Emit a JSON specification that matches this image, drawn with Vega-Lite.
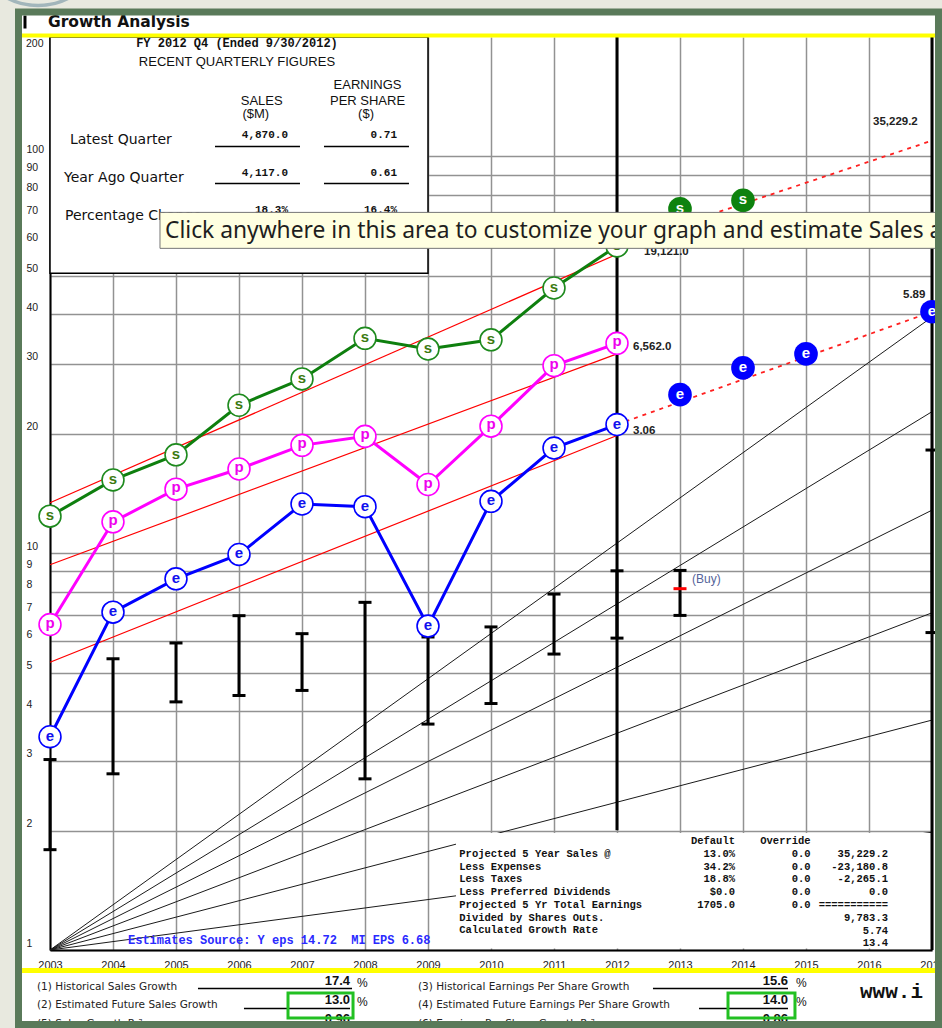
{
  "$schema": "https://vega.github.io/schema/vega-lite/v6.json",
  "width": 882,
  "height": 913,
  "autosize": {"type": "none"},
  "padding": {"left": 50, "top": 37, "right": 10, "bottom": 78},
  "background": "white",
  "config": {"view": {"stroke": null}, "text": {"font": "Liberation Sans"}},
  "data": {"values": [{}]},
  "datasets": {
    "sales": [
      {"year": 2003, "sales": 3985}, {"year": 2004, "sales": 4917}, {"year": 2005, "sales": 5689},
      {"year": 2006, "sales": 7585}, {"year": 2007, "sales": 8839}, {"year": 2008, "sales": 11185},
      {"year": 2009, "sales": 10510}, {"year": 2010, "sales": 11088}, {"year": 2011, "sales": 14977},
      {"year": 2012, "sales": 19121.0}
    ],
    "salesEstimates": [{"year": 2013, "sales": 23700}, {"year": 2014, "sales": 24900}],
    "salesProjection": [{"year": 2012, "sales": 19121.0}, {"year": 2017, "sales": 35229.2}],
    "salesTrend": [{"year": 2003, "sales": 4307}, {"year": 2012, "sales": 18223}],
    "pretax": [
      {"year": 2003, "profit": 1283}, {"year": 2004, "profit": 2329}, {"year": 2005, "profit": 2815},
      {"year": 2006, "profit": 3164}, {"year": 2007, "profit": 3630}, {"year": 2008, "profit": 3824},
      {"year": 2009, "profit": 2892}, {"year": 2010, "profit": 4057}, {"year": 2011, "profit": 5765},
      {"year": 2012, "profit": 6562.0}
    ],
    "pretaxTrend": [{"year": 2003, "profit": 1815}, {"year": 2012, "profit": 6172}],
    "eps": [
      {"year": 2003, "eps": 0.50}, {"year": 2004, "eps": 1.03}, {"year": 2005, "eps": 1.25},
      {"year": 2006, "eps": 1.44}, {"year": 2007, "eps": 1.93}, {"year": 2008, "eps": 1.90},
      {"year": 2009, "eps": 0.95}, {"year": 2010, "eps": 1.96}, {"year": 2011, "eps": 2.67},
      {"year": 2012, "eps": 3.06}
    ],
    "epsEstimates": [{"year": 2013, "eps": 3.64}, {"year": 2014, "eps": 4.25}, {"year": 2015, "eps": 4.61}, {"year": 2017, "eps": 5.89}],
    "epsProjection": [{"year": 2012, "eps": 3.06}, {"year": 2017, "eps": 5.89}],
    "epsTrend": [{"year": 2003, "eps": 0.770}, {"year": 2012, "eps": 2.871}],
    "priceRange": [
      {"year": 2003, "low": 1.79, "high": 3.02}, {"year": 2004, "low": 2.78, "high": 5.42},
      {"year": 2005, "low": 4.22, "high": 5.94}, {"year": 2006, "low": 4.38, "high": 6.96},
      {"year": 2007, "low": 4.51, "high": 6.27}, {"year": 2008, "low": 2.70, "high": 7.52},
      {"year": 2009, "low": 3.71, "high": 6.15}, {"year": 2010, "low": 4.18, "high": 6.52},
      {"year": 2011, "low": 5.57, "high": 7.89}, {"year": 2012, "low": 6.11, "high": 9.03},
      {"year": 2013, "low": 6.97, "high": 9.05}, {"year": 2017, "low": 6.31, "high": 18.2}
    ],
    "currentPrice": [{"year": 2013, "price": 8.14}],
    "growthRates": [
      {"rate": "5%", "year": 2003, "value": 1}, {"rate": "5%", "year": 2017, "value": 1.980},
      {"rate": "10%", "year": 2003, "value": 1}, {"rate": "10%", "year": 2017, "value": 3.797},
      {"rate": "15%", "year": 2003, "value": 1}, {"rate": "15%", "year": 2017, "value": 7.076},
      {"rate": "20%", "year": 2003, "value": 1}, {"rate": "20%", "year": 2017, "value": 12.839},
      {"rate": "25%", "year": 2003, "value": 1}, {"rate": "25%", "year": 2017, "value": 22.737},
      {"rate": "30%", "year": 2003, "value": 1}, {"rate": "30%", "year": 2017, "value": 39.374}
    ]
  },
  "resolve": {"scale": {"x": "independent", "y": "independent"}},
  "layer": [
    {
      "data": {"name": "growthRates"},
      "mark": {"type": "line", "color": "#1a1a1a", "strokeWidth": 1},
      "encoding": {
        "x": {"field": "year", "type": "quantitative", "scale": {"domain": [2003, 2017], "nice": false, "zero": false},
          "axis": {"values": [2003, 2004, 2005, 2006, 2007, 2008, 2009, 2010, 2011, 2012, 2013, 2014, 2015, 2016, 2017],
            "format": "d", "title": null, "grid": true, "gridColor": "#929292", "gridWidth": 1.5, "ticks": false, "tickSize": 0,
            "domain": true, "domainColor": "#000000", "domainWidth": 2, "labelFont": "Liberation Sans", "labelFontSize": 11,
            "labelColor": "#222222", "labelPadding": 9, "labelOverlap": false, "labelFlush": false, "labelBound": false}},
        "y": {"field": "value", "type": "quantitative", "scale": {"type": "log", "domain": [1, 200], "nice": false},
          "axis": {"values": [1, 2, 3, 4, 5, 6, 7, 8, 9, 10, 20, 30, 40, 50, 60, 70, 80, 90, 100],
            "format": "d", "title": null, "grid": true, "gridColor": "#929292", "gridWidth": 1.5, "ticks": false, "tickSize": 0,
            "domain": true, "domainColor": "#000000", "domainWidth": 2, "labelFont": "Liberation Sans", "labelFontSize": 10.5,
            "labelColor": "#222222", "labelAlign": "left", "labelBaseline": "alphabetic", "labelOffset": -4, "labelPadding": 24,
            "labelOverlap": false, "labelFlush": false, "labelBound": false}},
        "detail": {"field": "rate"}
      }
    },
    {
      "layer": [
        {
          "mark": {"type": "rect", "color": "#e8e9df"},
          "encoding": {
            "x": {"datum": 2001.5, "type": "quantitative", "scale": {"domain": [2003, 2017], "nice": false, "zero": false}, "axis": null},
            "x2": {"datum": 2018.5},
            "y": {"datum": 231.2, "type": "quantitative", "scale": {"type": "log", "domain": [1, 200], "nice": false}, "axis": null},
            "y2": {"datum": 500}
          }
        },
        {
          "mark": {"type": "rect", "color": "#e8e9df"},
          "encoding": {
            "x": {"datum": 2001.5, "type": "quantitative", "scale": {"domain": [2003, 2017], "nice": false, "zero": false}, "axis": null},
            "x2": {"datum": 2002.5},
            "y": {"datum": 0.3, "type": "quantitative", "scale": {"type": "log", "domain": [1, 200], "nice": false}, "axis": null},
            "y2": {"datum": 500}
          }
        },
        {
          "mark": {"type": "point", "shape": "circle", "filled": false, "color": "#a2b6bb", "strokeWidth": 3.5, "size": 16900, "opacity": 1},
          "encoding": {
            "x": {"datum": 2002.81, "type": "quantitative", "scale": {"domain": [2003, 2017], "nice": false, "zero": false}, "axis": null},
            "y": {"datum": 350.1, "type": "quantitative", "scale": {"type": "log", "domain": [1, 200], "nice": false}, "axis": null}
          }
        },
        {
          "mark": {"type": "text", "text": "200", "fontSize": 10.5, "align": "left", "baseline": "top", "dy": 2, "color": "#222222"},
          "encoding": {
            "x": {"datum": 2002.619, "type": "quantitative", "scale": {"domain": [2003, 2017], "nice": false, "zero": false}, "axis": null},
            "y": {"datum": 200, "type": "quantitative", "scale": {"type": "log", "domain": [1, 200], "nice": false}, "axis": null}
          }
        },
        {
          "data": {"name": "priceRange"},
          "mark": {"type": "rule", "color": "#000000", "strokeWidth": 3},
          "encoding": {
            "x": {"field": "year", "type": "quantitative", "scale": {"domain": [2003, 2017], "nice": false, "zero": false}, "axis": null},
            "y": {"field": "low", "type": "quantitative", "scale": {"type": "log", "domain": [1, 200], "nice": false}, "axis": null},
            "y2": {"field": "high"}
          }
        },
        {
          "data": {"name": "priceRange"},
          "mark": {"type": "tick", "orient": "horizontal", "color": "#000000", "thickness": 3, "size": 13, "opacity": 1},
          "encoding": {
            "x": {"field": "year", "type": "quantitative", "scale": {"domain": [2003, 2017], "nice": false, "zero": false}, "axis": null},
            "y": {"field": "low", "type": "quantitative", "scale": {"type": "log", "domain": [1, 200], "nice": false}, "axis": null}
          }
        },
        {
          "data": {"name": "priceRange"},
          "mark": {"type": "tick", "orient": "horizontal", "color": "#000000", "thickness": 3, "size": 13, "opacity": 1},
          "encoding": {
            "x": {"field": "year", "type": "quantitative", "scale": {"domain": [2003, 2017], "nice": false, "zero": false}, "axis": null},
            "y": {"field": "high", "type": "quantitative", "scale": {"type": "log", "domain": [1, 200], "nice": false}, "axis": null}
          }
        },
        {
          "mark": {"type": "rule", "color": "#000000", "strokeWidth": 3},
          "encoding": {
            "x": {"datum": 2012, "type": "quantitative", "scale": {"domain": [2003, 2017], "nice": false, "zero": false}, "axis": null},
            "y": {"datum": 2.005, "type": "quantitative", "scale": {"type": "log", "domain": [1, 200], "nice": false}, "axis": null},
            "y2": {"datum": 200}
          }
        },
        {
          "data": {"name": "currentPrice"},
          "mark": {"type": "tick", "orient": "horizontal", "color": "#ff0000", "thickness": 3, "size": 13, "opacity": 1},
          "encoding": {
            "x": {"field": "year", "type": "quantitative", "scale": {"domain": [2003, 2017], "nice": false, "zero": false}, "axis": null},
            "y": {"field": "price", "type": "quantitative", "scale": {"type": "log", "domain": [1, 200], "nice": false}, "axis": null}
          }
        },
        {
          "mark": {"type": "text", "text": "(Buy)", "align": "left", "baseline": "middle", "fontSize": 12, "color": "#55649a"},
          "encoding": {
            "x": {"datum": 2013.19, "type": "quantitative", "scale": {"domain": [2003, 2017], "nice": false, "zero": false}, "axis": null},
            "y": {"datum": 8.6, "type": "quantitative", "scale": {"type": "log", "domain": [1, 200], "nice": false}, "axis": null}
          }
        },
        {
          "mark": {"type": "rect", "color": "#ffffff"},
          "encoding": {
            "x": {"datum": 2009.444, "type": "quantitative", "scale": {"domain": [2003, 2017], "nice": false, "zero": false}, "axis": null},
            "x2": {"datum": 2016.98},
            "y": {"datum": 1.009, "type": "quantitative", "scale": {"type": "log", "domain": [1, 200], "nice": false}, "axis": null},
            "y2": {"datum": 1.9716}
          }
        },
        {
          "mark": {"type": "text", "font": "Liberation Mono", "fontWeight": "bold", "fontSize": 10.5, "align": "left", "baseline": "alphabetic", "lineHeight": 12.77, "color": "#111111",
            "text": ["Projected 5 Year Sales @", "Less Expenses", "Less Taxes", "Less Preferred Dividends", " ", "Projected 5 Yr Total Earnings", "Divided by Shares Outs.", "Calculated Growth Rate"]},
          "encoding": {
            "x": {"datum": 2009.497, "type": "quantitative", "scale": {"domain": [2003, 2017], "nice": false, "zero": false}, "axis": null},
            "y": {"datum": 1.7178, "type": "quantitative", "scale": {"type": "log", "domain": [1, 200], "nice": false}, "axis": null}
          }
        },
        {
          "mark": {"type": "text", "font": "Liberation Mono", "fontWeight": "bold", "fontSize": 10.5, "align": "right", "baseline": "alphabetic", "lineHeight": 12.77, "color": "#111111",
            "text": ["Default", "13.0%", "34.2%", "18.8%", "$0.0", " ", " ", "1705.0"]},
          "encoding": {
            "x": {"datum": 2013.873, "type": "quantitative", "scale": {"domain": [2003, 2017], "nice": false, "zero": false}, "axis": null},
            "y": {"datum": 1.848, "type": "quantitative", "scale": {"type": "log", "domain": [1, 200], "nice": false}, "axis": null}
          }
        },
        {
          "mark": {"type": "text", "font": "Liberation Mono", "fontWeight": "bold", "fontSize": 10.5, "align": "right", "baseline": "alphabetic", "lineHeight": 12.77, "color": "#111111",
            "text": ["Override", "0.0", "0.0", "0.0", "0.0", " ", " ", "0.0"]},
          "encoding": {
            "x": {"datum": 2015.074, "type": "quantitative", "scale": {"domain": [2003, 2017], "nice": false, "zero": false}, "axis": null},
            "y": {"datum": 1.848, "type": "quantitative", "scale": {"type": "log", "domain": [1, 200], "nice": false}, "axis": null}
          }
        },
        {
          "mark": {"type": "text", "font": "Liberation Mono", "fontWeight": "bold", "fontSize": 10.5, "align": "right", "baseline": "alphabetic", "lineHeight": 12.77, "color": "#111111",
            "text": [" ", "35,229.2", "-23,180.8", "-2,265.1", "0.0", "===========", "9,783.3", "5.74", "13.4"]},
          "encoding": {
            "x": {"datum": 2016.302, "type": "quantitative", "scale": {"domain": [2003, 2017], "nice": false, "zero": false}, "axis": null},
            "y": {"datum": 1.848, "type": "quantitative", "scale": {"type": "log", "domain": [1, 200], "nice": false}, "axis": null}
          }
        },
        {
          "mark": {"type": "rect", "fill": "#ffffff", "stroke": "#000000", "strokeWidth": 1.5},
          "encoding": {
            "x": {"datum": 2003, "type": "quantitative", "scale": {"domain": [2003, 2017], "nice": false, "zero": false}, "axis": null},
            "x2": {"datum": 2009},
            "y": {"datum": 50.74, "type": "quantitative", "scale": {"type": "log", "domain": [1, 200], "nice": false}, "axis": null},
            "y2": {"datum": 200}
          }
        },
        {
          "mark": {"type": "text", "text": "FY 2012 Q4 (Ended 9/30/2012)", "font": "Liberation Mono", "fontWeight": "bold", "fontSize": 12, "align": "center", "baseline": "middle", "color": "#111111"},
          "encoding": {
            "x": {"datum": 2005.968, "type": "quantitative", "scale": {"domain": [2003, 2017], "nice": false, "zero": false}, "axis": null},
            "y": {"datum": 192.6, "type": "quantitative", "scale": {"type": "log", "domain": [1, 200], "nice": false}, "axis": null}
          }
        },
        {
          "mark": {"type": "text", "text": "RECENT QUARTERLY FIGURES", "fontSize": 13, "align": "center", "baseline": "middle", "color": "#111111"},
          "encoding": {
            "x": {"datum": 2005.968, "type": "quantitative", "scale": {"domain": [2003, 2017], "nice": false, "zero": false}, "axis": null},
            "y": {"datum": 172.5, "type": "quantitative", "scale": {"type": "log", "domain": [1, 200], "nice": false}, "axis": null}
          }
        },
        {
          "mark": {"type": "text", "text": "EARNINGS", "fontSize": 13, "align": "center", "baseline": "middle", "color": "#111111"},
          "encoding": {
            "x": {"datum": 2008.04, "type": "quantitative", "scale": {"domain": [2003, 2017], "nice": false, "zero": false}, "axis": null},
            "y": {"datum": 151.0, "type": "quantitative", "scale": {"type": "log", "domain": [1, 200], "nice": false}, "axis": null}
          }
        },
        {
          "mark": {"type": "text", "text": "PER SHARE", "fontSize": 13, "align": "center", "baseline": "middle", "color": "#111111"},
          "encoding": {
            "x": {"datum": 2008.04, "type": "quantitative", "scale": {"domain": [2003, 2017], "nice": false, "zero": false}, "axis": null},
            "y": {"datum": 137.6, "type": "quantitative", "scale": {"type": "log", "domain": [1, 200], "nice": false}, "axis": null}
          }
        },
        {
          "mark": {"type": "text", "text": "($)", "fontSize": 13, "align": "center", "baseline": "middle", "color": "#111111"},
          "encoding": {
            "x": {"datum": 2008.016, "type": "quantitative", "scale": {"domain": [2003, 2017], "nice": false, "zero": false}, "axis": null},
            "y": {"datum": 127.6, "type": "quantitative", "scale": {"type": "log", "domain": [1, 200], "nice": false}, "axis": null}
          }
        },
        {
          "mark": {"type": "text", "text": "SALES", "fontSize": 13, "align": "center", "baseline": "middle", "color": "#111111"},
          "encoding": {
            "x": {"datum": 2006.36, "type": "quantitative", "scale": {"domain": [2003, 2017], "nice": false, "zero": false}, "axis": null},
            "y": {"datum": 137.6, "type": "quantitative", "scale": {"type": "log", "domain": [1, 200], "nice": false}, "axis": null}
          }
        },
        {
          "mark": {"type": "text", "text": "($M)", "fontSize": 13, "align": "center", "baseline": "middle", "color": "#111111"},
          "encoding": {
            "x": {"datum": 2006.266, "type": "quantitative", "scale": {"domain": [2003, 2017], "nice": false, "zero": false}, "axis": null},
            "y": {"datum": 127.6, "type": "quantitative", "scale": {"type": "log", "domain": [1, 200], "nice": false}, "axis": null}
          }
        },
        {
          "mark": {"type": "text", "text": "Latest Quarter", "font": "DejaVu Sans", "fontSize": 14, "align": "left", "baseline": "middle", "color": "#111111"},
          "encoding": {
            "x": {"datum": 2003.317, "type": "quantitative", "scale": {"domain": [2003, 2017], "nice": false, "zero": false}, "axis": null},
            "y": {"datum": 109.7, "type": "quantitative", "scale": {"type": "log", "domain": [1, 200], "nice": false}, "axis": null}
          }
        },
        {
          "mark": {"type": "text", "text": "Year Ago Quarter", "font": "DejaVu Sans", "fontSize": 14, "align": "left", "baseline": "middle", "color": "#111111"},
          "encoding": {
            "x": {"datum": 2003.222, "type": "quantitative", "scale": {"domain": [2003, 2017], "nice": false, "zero": false}, "axis": null},
            "y": {"datum": 88.05, "type": "quantitative", "scale": {"type": "log", "domain": [1, 200], "nice": false}, "axis": null}
          }
        },
        {
          "mark": {"type": "text", "text": "Percentage Change", "font": "DejaVu Sans", "fontSize": 14, "align": "left", "baseline": "middle", "color": "#111111"},
          "encoding": {
            "x": {"datum": 2003.238, "type": "quantitative", "scale": {"domain": [2003, 2017], "nice": false, "zero": false}, "axis": null},
            "y": {"datum": 70.61, "type": "quantitative", "scale": {"type": "log", "domain": [1, 200], "nice": false}, "axis": null}
          }
        },
        {
          "mark": {"type": "text", "font": "Liberation Mono", "fontWeight": "bold", "fontSize": 11, "align": "right", "baseline": "middle", "lineHeight": 37.5, "color": "#111111", "text": ["4,870.0", "4,117.0", "18.3%"]},
          "encoding": {
            "x": {"datum": 2006.778, "type": "quantitative", "scale": {"domain": [2003, 2017], "nice": false, "zero": false}, "axis": null},
            "y": {"datum": 112.97, "type": "quantitative", "scale": {"type": "log", "domain": [1, 200], "nice": false}, "axis": null}
          }
        },
        {
          "mark": {"type": "text", "font": "Liberation Mono", "fontWeight": "bold", "fontSize": 11, "align": "right", "baseline": "middle", "lineHeight": 37.5, "color": "#111111", "text": ["0.71", "0.61", "16.4%"]},
          "encoding": {
            "x": {"datum": 2008.508, "type": "quantitative", "scale": {"domain": [2003, 2017], "nice": false, "zero": false}, "axis": null},
            "y": {"datum": 112.97, "type": "quantitative", "scale": {"type": "log", "domain": [1, 200], "nice": false}, "axis": null}
          }
        },
        {
          "mark": {"type": "rule", "color": "#000000", "strokeWidth": 1.5},
          "encoding": {
            "x": {"datum": 2005.619, "type": "quantitative", "scale": {"domain": [2003, 2017], "nice": false, "zero": false}, "axis": null},
            "x2": {"datum": 2006.968},
            "y": {"datum": 105.97, "type": "quantitative", "scale": {"type": "log", "domain": [1, 200], "nice": false}, "axis": null}
          }
        },
        {
          "mark": {"type": "rule", "color": "#000000", "strokeWidth": 1.5},
          "encoding": {
            "x": {"datum": 2007.349, "type": "quantitative", "scale": {"domain": [2003, 2017], "nice": false, "zero": false}, "axis": null},
            "x2": {"datum": 2008.698},
            "y": {"datum": 105.97, "type": "quantitative", "scale": {"type": "log", "domain": [1, 200], "nice": false}, "axis": null}
          }
        },
        {
          "mark": {"type": "rule", "color": "#000000", "strokeWidth": 1.5},
          "encoding": {
            "x": {"datum": 2005.619, "type": "quantitative", "scale": {"domain": [2003, 2017], "nice": false, "zero": false}, "axis": null},
            "x2": {"datum": 2006.968},
            "y": {"datum": 85.5, "type": "quantitative", "scale": {"type": "log", "domain": [1, 200], "nice": false}, "axis": null}
          }
        },
        {
          "mark": {"type": "rule", "color": "#000000", "strokeWidth": 1.5},
          "encoding": {
            "x": {"datum": 2007.349, "type": "quantitative", "scale": {"domain": [2003, 2017], "nice": false, "zero": false}, "axis": null},
            "x2": {"datum": 2008.698},
            "y": {"datum": 85.5, "type": "quantitative", "scale": {"type": "log", "domain": [1, 200], "nice": false}, "axis": null}
          }
        },
        {
          "mark": {"type": "rule", "color": "#000000", "strokeWidth": 3},
          "encoding": {
            "x": {"datum": 2017, "type": "quantitative", "scale": {"domain": [2003, 2017], "nice": false, "zero": false}, "axis": null},
            "y": {"datum": 1, "type": "quantitative", "scale": {"type": "log", "domain": [1, 200], "nice": false}, "axis": null},
            "y2": {"datum": 200}
          }
        },
        {
          "mark": {"type": "text", "text": "Estimates Source: Y eps 14.72\u00a0\u00a0MI EPS 6.68", "font": "Liberation Mono", "fontWeight": "bold", "fontSize": 12, "align": "left", "baseline": "middle", "color": "#2a2aff"},
          "encoding": {
            "x": {"datum": 2004.238, "type": "quantitative", "scale": {"domain": [2003, 2017], "nice": false, "zero": false}, "axis": null},
            "y": {"datum": 1.0597, "type": "quantitative", "scale": {"type": "log", "domain": [1, 200], "nice": false}, "axis": null}
          }
        }
      ]
    },
    {
      "layer": [
        {
          "data": {"name": "salesTrend"},
          "mark": {"type": "line", "color": "#ff0000", "strokeWidth": 1.2},
          "encoding": {
            "x": {"field": "year", "type": "quantitative", "scale": {"domain": [2003, 2017], "nice": false, "zero": false}, "axis": null},
            "y": {"field": "sales", "type": "quantitative", "scale": {"type": "log", "domain": [321.4, 64280], "nice": false}, "axis": null}
          }
        },
        {
          "data": {"name": "salesProjection"},
          "mark": {"type": "line", "color": "#ff2020", "strokeWidth": 1.8, "strokeDash": [4, 5]},
          "encoding": {
            "x": {"field": "year", "type": "quantitative", "scale": {"domain": [2003, 2017], "nice": false, "zero": false}, "axis": null},
            "y": {"field": "sales", "type": "quantitative", "scale": {"type": "log", "domain": [321.4, 64280], "nice": false}, "axis": null}
          }
        },
        {
          "data": {"name": "sales"},
          "mark": {"type": "line", "color": "#0e7f0e", "strokeWidth": 3},
          "encoding": {
            "x": {"field": "year", "type": "quantitative", "scale": {"domain": [2003, 2017], "nice": false, "zero": false}, "axis": null},
            "y": {"field": "sales", "type": "quantitative", "scale": {"type": "log", "domain": [321.4, 64280], "nice": false}, "axis": null}
          }
        },
        {
          "data": {"name": "sales"},
          "mark": {"type": "point", "shape": "circle", "filled": true, "fill": "#ffffff", "stroke": "#1d8a1d", "strokeWidth": 1.6, "size": 480, "opacity": 1},
          "encoding": {
            "x": {"field": "year", "type": "quantitative", "scale": {"domain": [2003, 2017], "nice": false, "zero": false}, "axis": null},
            "y": {"field": "sales", "type": "quantitative", "scale": {"type": "log", "domain": [321.4, 64280], "nice": false}, "axis": null}
          }
        },
        {
          "data": {"name": "sales"},
          "mark": {"type": "text", "text": "s", "fontSize": 15, "fontWeight": "bold", "color": "#3d7a12", "baseline": "middle", "dy": -1},
          "encoding": {
            "x": {"field": "year", "type": "quantitative", "scale": {"domain": [2003, 2017], "nice": false, "zero": false}, "axis": null},
            "y": {"field": "sales", "type": "quantitative", "scale": {"type": "log", "domain": [321.4, 64280], "nice": false}, "axis": null}
          }
        },
        {
          "data": {"name": "salesEstimates"},
          "mark": {"type": "point", "shape": "circle", "filled": true, "color": "#0e820e", "size": 560, "opacity": 1},
          "encoding": {
            "x": {"field": "year", "type": "quantitative", "scale": {"domain": [2003, 2017], "nice": false, "zero": false}, "axis": null},
            "y": {"field": "sales", "type": "quantitative", "scale": {"type": "log", "domain": [321.4, 64280], "nice": false}, "axis": null}
          }
        },
        {
          "data": {"name": "salesEstimates"},
          "mark": {"type": "text", "text": "s", "fontSize": 15, "fontWeight": "bold", "color": "#ffffff", "baseline": "middle", "dy": -1},
          "encoding": {
            "x": {"field": "year", "type": "quantitative", "scale": {"domain": [2003, 2017], "nice": false, "zero": false}, "axis": null},
            "y": {"field": "sales", "type": "quantitative", "scale": {"type": "log", "domain": [321.4, 64280], "nice": false}, "axis": null}
          }
        },
        {
          "data": {"name": "salesProjection"},
          "transform": [{"filter": "datum.year === 2012"}],
          "mark": {"type": "text", "align": "left", "baseline": "middle", "dx": 27, "dy": 6, "fontSize": 11.5, "fontWeight": "bold", "color": "#222222"},
          "encoding": {
            "x": {"field": "year", "type": "quantitative", "scale": {"domain": [2003, 2017], "nice": false, "zero": false}, "axis": null},
            "y": {"field": "sales", "type": "quantitative", "scale": {"type": "log", "domain": [321.4, 64280], "nice": false}, "axis": null},
            "text": {"field": "sales", "type": "quantitative", "format": ",.1f"}
          }
        },
        {
          "data": {"name": "salesProjection"},
          "transform": [{"filter": "datum.year === 2017"}],
          "mark": {"type": "text", "align": "left", "baseline": "middle", "dx": -59, "dy": -19, "fontSize": 11.5, "fontWeight": "bold", "color": "#222222"},
          "encoding": {
            "x": {"field": "year", "type": "quantitative", "scale": {"domain": [2003, 2017], "nice": false, "zero": false}, "axis": null},
            "y": {"field": "sales", "type": "quantitative", "scale": {"type": "log", "domain": [321.4, 64280], "nice": false}, "axis": null},
            "text": {"field": "sales", "type": "quantitative", "format": ",.1f"}
          }
        }
      ]
    },
    {
      "layer": [
        {
          "data": {"name": "pretaxTrend"},
          "mark": {"type": "line", "color": "#ff0000", "strokeWidth": 1.2},
          "encoding": {
            "x": {"field": "year", "type": "quantitative", "scale": {"domain": [2003, 2017], "nice": false, "zero": false}, "axis": null},
            "y": {"field": "profit", "type": "quantitative", "scale": {"type": "log", "domain": [194.1, 38820], "nice": false}, "axis": null}
          }
        },
        {
          "data": {"name": "pretax"},
          "mark": {"type": "line", "color": "#ff00ff", "strokeWidth": 3},
          "encoding": {
            "x": {"field": "year", "type": "quantitative", "scale": {"domain": [2003, 2017], "nice": false, "zero": false}, "axis": null},
            "y": {"field": "profit", "type": "quantitative", "scale": {"type": "log", "domain": [194.1, 38820], "nice": false}, "axis": null}
          }
        },
        {
          "data": {"name": "pretax"},
          "mark": {"type": "point", "shape": "circle", "filled": true, "fill": "#ffffff", "stroke": "#ff00ff", "strokeWidth": 1.6, "size": 480, "opacity": 1},
          "encoding": {
            "x": {"field": "year", "type": "quantitative", "scale": {"domain": [2003, 2017], "nice": false, "zero": false}, "axis": null},
            "y": {"field": "profit", "type": "quantitative", "scale": {"type": "log", "domain": [194.1, 38820], "nice": false}, "axis": null}
          }
        },
        {
          "data": {"name": "pretax"},
          "mark": {"type": "text", "text": "p", "fontSize": 15, "fontWeight": "bold", "color": "#ee00ee", "baseline": "middle", "dy": -2},
          "encoding": {
            "x": {"field": "year", "type": "quantitative", "scale": {"domain": [2003, 2017], "nice": false, "zero": false}, "axis": null},
            "y": {"field": "profit", "type": "quantitative", "scale": {"type": "log", "domain": [194.1, 38820], "nice": false}, "axis": null}
          }
        },
        {
          "data": {"name": "pretax"},
          "transform": [{"filter": "datum.year === 2012"}],
          "mark": {"type": "text", "align": "left", "baseline": "middle", "dx": 16, "dy": 4, "fontSize": 11.5, "fontWeight": "bold", "color": "#222222"},
          "encoding": {
            "x": {"field": "year", "type": "quantitative", "scale": {"domain": [2003, 2017], "nice": false, "zero": false}, "axis": null},
            "y": {"field": "profit", "type": "quantitative", "scale": {"type": "log", "domain": [194.1, 38820], "nice": false}, "axis": null},
            "text": {"field": "profit", "type": "quantitative", "format": ",.1f"}
          }
        }
      ]
    },
    {
      "layer": [
        {
          "data": {"name": "epsTrend"},
          "mark": {"type": "line", "color": "#ff0000", "strokeWidth": 1.2},
          "encoding": {
            "x": {"field": "year", "type": "quantitative", "scale": {"domain": [2003, 2017], "nice": false, "zero": false}, "axis": null},
            "y": {"field": "eps", "type": "quantitative", "scale": {"type": "log", "domain": [0.14502, 29.005], "nice": false}, "axis": null}
          }
        },
        {
          "data": {"name": "epsProjection"},
          "mark": {"type": "line", "color": "#ff2020", "strokeWidth": 1.8, "strokeDash": [4, 5]},
          "encoding": {
            "x": {"field": "year", "type": "quantitative", "scale": {"domain": [2003, 2017], "nice": false, "zero": false}, "axis": null},
            "y": {"field": "eps", "type": "quantitative", "scale": {"type": "log", "domain": [0.14502, 29.005], "nice": false}, "axis": null}
          }
        },
        {
          "data": {"name": "eps"},
          "mark": {"type": "line", "color": "#0000ff", "strokeWidth": 3},
          "encoding": {
            "x": {"field": "year", "type": "quantitative", "scale": {"domain": [2003, 2017], "nice": false, "zero": false}, "axis": null},
            "y": {"field": "eps", "type": "quantitative", "scale": {"type": "log", "domain": [0.14502, 29.005], "nice": false}, "axis": null}
          }
        },
        {
          "data": {"name": "eps"},
          "mark": {"type": "point", "shape": "circle", "filled": true, "fill": "#ffffff", "stroke": "#0000ff", "strokeWidth": 1.6, "size": 480, "opacity": 1},
          "encoding": {
            "x": {"field": "year", "type": "quantitative", "scale": {"domain": [2003, 2017], "nice": false, "zero": false}, "axis": null},
            "y": {"field": "eps", "type": "quantitative", "scale": {"type": "log", "domain": [0.14502, 29.005], "nice": false}, "axis": null}
          }
        },
        {
          "data": {"name": "eps"},
          "mark": {"type": "text", "text": "e", "fontSize": 15, "fontWeight": "bold", "color": "#1010ee", "baseline": "middle", "dy": -1},
          "encoding": {
            "x": {"field": "year", "type": "quantitative", "scale": {"domain": [2003, 2017], "nice": false, "zero": false}, "axis": null},
            "y": {"field": "eps", "type": "quantitative", "scale": {"type": "log", "domain": [0.14502, 29.005], "nice": false}, "axis": null}
          }
        },
        {
          "data": {"name": "epsEstimates"},
          "mark": {"type": "point", "shape": "circle", "filled": true, "color": "#0000ff", "size": 560, "opacity": 1},
          "encoding": {
            "x": {"field": "year", "type": "quantitative", "scale": {"domain": [2003, 2017], "nice": false, "zero": false}, "axis": null},
            "y": {"field": "eps", "type": "quantitative", "scale": {"type": "log", "domain": [0.14502, 29.005], "nice": false}, "axis": null}
          }
        },
        {
          "data": {"name": "epsEstimates"},
          "mark": {"type": "text", "text": "e", "fontSize": 15, "fontWeight": "bold", "color": "#ffffff", "baseline": "middle", "dy": -1},
          "encoding": {
            "x": {"field": "year", "type": "quantitative", "scale": {"domain": [2003, 2017], "nice": false, "zero": false}, "axis": null},
            "y": {"field": "eps", "type": "quantitative", "scale": {"type": "log", "domain": [0.14502, 29.005], "nice": false}, "axis": null}
          }
        },
        {
          "data": {"name": "epsProjection"},
          "transform": [{"filter": "datum.year === 2012"}],
          "mark": {"type": "text", "align": "left", "baseline": "middle", "dx": 16, "dy": 6, "fontSize": 11.5, "fontWeight": "bold", "color": "#222222"},
          "encoding": {
            "x": {"field": "year", "type": "quantitative", "scale": {"domain": [2003, 2017], "nice": false, "zero": false}, "axis": null},
            "y": {"field": "eps", "type": "quantitative", "scale": {"type": "log", "domain": [0.14502, 29.005], "nice": false}, "axis": null},
            "text": {"field": "eps", "type": "quantitative", "format": ".2f"}
          }
        },
        {
          "data": {"name": "epsProjection"},
          "transform": [{"filter": "datum.year === 2017"}],
          "mark": {"type": "text", "align": "left", "baseline": "middle", "dx": -29, "dy": -17, "fontSize": 11.5, "fontWeight": "bold", "color": "#222222"},
          "encoding": {
            "x": {"field": "year", "type": "quantitative", "scale": {"domain": [2003, 2017], "nice": false, "zero": false}, "axis": null},
            "y": {"field": "eps", "type": "quantitative", "scale": {"type": "log", "domain": [0.14502, 29.005], "nice": false}, "axis": null},
            "text": {"field": "eps", "type": "quantitative", "format": ".2f"}
          }
        }
      ]
    },
    {
      "layer": [
        {
          "mark": {"type": "rect", "fill": "#ffffe1", "stroke": "#767676", "strokeWidth": 1},
          "encoding": {
            "x": {"datum": 2004.746, "type": "quantitative", "scale": {"domain": [2003, 2017], "nice": false, "zero": false}, "axis": null},
            "x2": {"datum": 2017.4},
            "y": {"datum": 58.66, "type": "quantitative", "scale": {"type": "log", "domain": [1, 200], "nice": false}, "axis": null},
            "y2": {"datum": 72.27}
          }
        },
        {
          "mark": {"type": "text", "text": "Click anywhere in this area to customize your graph and estimate Sales and EPS.", "font": "Noto Sans", "fontSize": 22.8, "align": "left", "baseline": "middle", "color": "#1e1e1e"},
          "encoding": {
            "x": {"datum": 2004.825, "type": "quantitative", "scale": {"domain": [2003, 2017], "nice": false, "zero": false}, "axis": null},
            "y": {"datum": 64.73, "type": "quantitative", "scale": {"type": "log", "domain": [1, 200], "nice": false}, "axis": null}
          }
        },
        {
          "mark": {"type": "rule", "color": "#ffff00", "strokeWidth": 4},
          "encoding": {
            "x": {"datum": 2002.556, "type": "quantitative", "scale": {"domain": [2003, 2017], "nice": false, "zero": false}, "axis": null},
            "x2": {"datum": 2017.3},
            "y": {"datum": 201.8, "type": "quantitative", "scale": {"type": "log", "domain": [1, 200], "nice": false}, "axis": null}
          }
        },
        {
          "mark": {"type": "rule", "color": "#000000", "strokeWidth": 3},
          "encoding": {
            "x": {"datum": 2002.603, "type": "quantitative", "scale": {"domain": [2003, 2017], "nice": false, "zero": false}, "axis": null},
            "y": {"datum": 210.1, "type": "quantitative", "scale": {"type": "log", "domain": [1, 200], "nice": false}, "axis": null},
            "y2": {"datum": 226.5}
          }
        },
        {
          "mark": {"type": "text", "text": "Growth Analysis", "font": "DejaVu Sans", "fontWeight": "bold", "fontSize": 15.5, "align": "left", "baseline": "middle", "color": "#111111"},
          "encoding": {
            "x": {"datum": 2002.968, "type": "quantitative", "scale": {"domain": [2003, 2017], "nice": false, "zero": false}, "axis": null},
            "y": {"datum": 218.8, "type": "quantitative", "scale": {"type": "log", "domain": [1, 200], "nice": false}, "axis": null}
          }
        },
        {
          "mark": {"type": "rule", "color": "#ffff00", "strokeWidth": 5},
          "encoding": {
            "x": {"datum": 2002.556, "type": "quantitative", "scale": {"domain": [2003, 2017], "nice": false, "zero": false}, "axis": null},
            "x2": {"datum": 2017.3},
            "y": {"datum": 0.8878, "type": "quantitative", "scale": {"type": "log", "domain": [1, 200], "nice": false}, "axis": null}
          }
        },
        {
          "mark": {"type": "text", "font": "DejaVu Sans", "fontSize": 10.5, "align": "left", "baseline": "alphabetic", "lineHeight": 18.5, "color": "#222222",
            "text": ["(1) Historical Sales Growth", "(2) Estimated Future Sales Growth", "(5) Sales Growth R \u00b2"]},
          "encoding": {
            "x": {"datum": 2002.794, "type": "quantitative", "scale": {"domain": [2003, 2017], "nice": false, "zero": false}, "axis": null},
            "y": {"datum": 0.7949, "type": "quantitative", "scale": {"type": "log", "domain": [1, 200], "nice": false}, "axis": null}
          }
        },
        {
          "mark": {"type": "text", "font": "DejaVu Sans", "fontSize": 10.5, "align": "left", "baseline": "alphabetic", "lineHeight": 18.5, "color": "#222222",
            "text": ["(3) Historical Earnings Per Share Growth", "(4) Estimated Future Earnings Per Share Growth", "(6) Earnings Per Share Growth R \u00b2"]},
          "encoding": {
            "x": {"datum": 2008.841, "type": "quantitative", "scale": {"domain": [2003, 2017], "nice": false, "zero": false}, "axis": null},
            "y": {"datum": 0.7949, "type": "quantitative", "scale": {"type": "log", "domain": [1, 200], "nice": false}, "axis": null}
          }
        },
        {
          "mark": {"type": "rule", "color": "#000000", "strokeWidth": 1.5},
          "encoding": {
            "x": {"datum": 2005.349, "type": "quantitative", "scale": {"domain": [2003, 2017], "nice": false, "zero": false}, "axis": null},
            "x2": {"datum": 2007.794},
            "y": {"datum": 0.8, "type": "quantitative", "scale": {"type": "log", "domain": [1, 200], "nice": false}, "axis": null}
          }
        },
        {
          "mark": {"type": "rule", "color": "#000000", "strokeWidth": 1.5},
          "encoding": {
            "x": {"datum": 2006.079, "type": "quantitative", "scale": {"domain": [2003, 2017], "nice": false, "zero": false}, "axis": null},
            "x2": {"datum": 2007.762},
            "y": {"datum": 0.7121, "type": "quantitative", "scale": {"type": "log", "domain": [1, 200], "nice": false}, "axis": null}
          }
        },
        {
          "mark": {"type": "rule", "color": "#000000", "strokeWidth": 1.5},
          "encoding": {
            "x": {"datum": 2012.571, "type": "quantitative", "scale": {"domain": [2003, 2017], "nice": false, "zero": false}, "axis": null},
            "x2": {"datum": 2014.714},
            "y": {"datum": 0.8, "type": "quantitative", "scale": {"type": "log", "domain": [1, 200], "nice": false}, "axis": null}
          }
        },
        {
          "mark": {"type": "rule", "color": "#000000", "strokeWidth": 1.5},
          "encoding": {
            "x": {"datum": 2013.302, "type": "quantitative", "scale": {"domain": [2003, 2017], "nice": false, "zero": false}, "axis": null},
            "x2": {"datum": 2014.714},
            "y": {"datum": 0.7121, "type": "quantitative", "scale": {"type": "log", "domain": [1, 200], "nice": false}, "axis": null}
          }
        },
        {
          "mark": {"type": "text", "fontSize": 13, "fontWeight": "bold", "align": "right", "baseline": "alphabetic", "lineHeight": 19, "color": "#111111", "text": ["17.4", "13.0", "0.96"]},
          "encoding": {
            "x": {"datum": 2007.762, "type": "quantitative", "scale": {"domain": [2003, 2017], "nice": false, "zero": false}, "axis": null},
            "y": {"datum": 0.8139, "type": "quantitative", "scale": {"type": "log", "domain": [1, 200], "nice": false}, "axis": null}
          }
        },
        {
          "mark": {"type": "text", "fontSize": 12, "align": "left", "baseline": "alphabetic", "lineHeight": 19, "color": "#111111", "text": ["%", "%"]},
          "encoding": {
            "x": {"datum": 2007.873, "type": "quantitative", "scale": {"domain": [2003, 2017], "nice": false, "zero": false}, "axis": null},
            "y": {"datum": 0.8055, "type": "quantitative", "scale": {"type": "log", "domain": [1, 200], "nice": false}, "axis": null}
          }
        },
        {
          "mark": {"type": "text", "fontSize": 13, "fontWeight": "bold", "align": "right", "baseline": "alphabetic", "lineHeight": 19, "color": "#111111", "text": ["15.6", "14.0", "0.86"]},
          "encoding": {
            "x": {"datum": 2014.714, "type": "quantitative", "scale": {"domain": [2003, 2017], "nice": false, "zero": false}, "axis": null},
            "y": {"datum": 0.8139, "type": "quantitative", "scale": {"type": "log", "domain": [1, 200], "nice": false}, "axis": null}
          }
        },
        {
          "mark": {"type": "text", "fontSize": 12, "align": "left", "baseline": "alphabetic", "lineHeight": 19, "color": "#111111", "text": ["%", "%"]},
          "encoding": {
            "x": {"datum": 2014.841, "type": "quantitative", "scale": {"domain": [2003, 2017], "nice": false, "zero": false}, "axis": null},
            "y": {"datum": 0.8055, "type": "quantitative", "scale": {"type": "log", "domain": [1, 200], "nice": false}, "axis": null}
          }
        },
        {
          "mark": {"type": "rect", "filled": false, "color": "#22c022", "strokeWidth": 3},
          "encoding": {
            "x": {"datum": 2006.778, "type": "quantitative", "scale": {"domain": [2003, 2017], "nice": false, "zero": false}, "axis": null},
            "x2": {"datum": 2007.81},
            "y": {"datum": 0.6741, "type": "quantitative", "scale": {"type": "log", "domain": [1, 200], "nice": false}, "axis": null},
            "y2": {"datum": 0.7793}
          }
        },
        {
          "mark": {"type": "rect", "filled": false, "color": "#22c022", "strokeWidth": 3},
          "encoding": {
            "x": {"datum": 2013.762, "type": "quantitative", "scale": {"domain": [2003, 2017], "nice": false, "zero": false}, "axis": null},
            "x2": {"datum": 2014.825},
            "y": {"datum": 0.6741, "type": "quantitative", "scale": {"type": "log", "domain": [1, 200], "nice": false}, "axis": null},
            "y2": {"datum": 0.7793}
          }
        },
        {
          "mark": {"type": "text", "text": "www.i", "font": "Liberation Mono", "fontWeight": "bold", "fontSize": 21, "align": "left", "baseline": "middle", "color": "#111111"},
          "encoding": {
            "x": {"datum": 2015.857, "type": "quantitative", "scale": {"domain": [2003, 2017], "nice": false, "zero": false}, "axis": null},
            "y": {"datum": 0.7838, "type": "quantitative", "scale": {"type": "log", "domain": [1, 200], "nice": false}, "axis": null}
          }
        },
        {
          "mark": {"type": "rect", "filled": false, "color": "#5a7a5a", "strokeWidth": 7},
          "encoding": {
            "x": {"datum": 2002.5, "type": "quantitative", "scale": {"domain": [2003, 2017], "nice": false, "zero": false}, "axis": null},
            "x2": {"datum": 2017.103},
            "y": {"datum": 0.6492, "type": "quantitative", "scale": {"type": "log", "domain": [1, 200], "nice": false}, "axis": null},
            "y2": {"datum": 231.2}
          }
        }
      ]
    }
  ]
}
